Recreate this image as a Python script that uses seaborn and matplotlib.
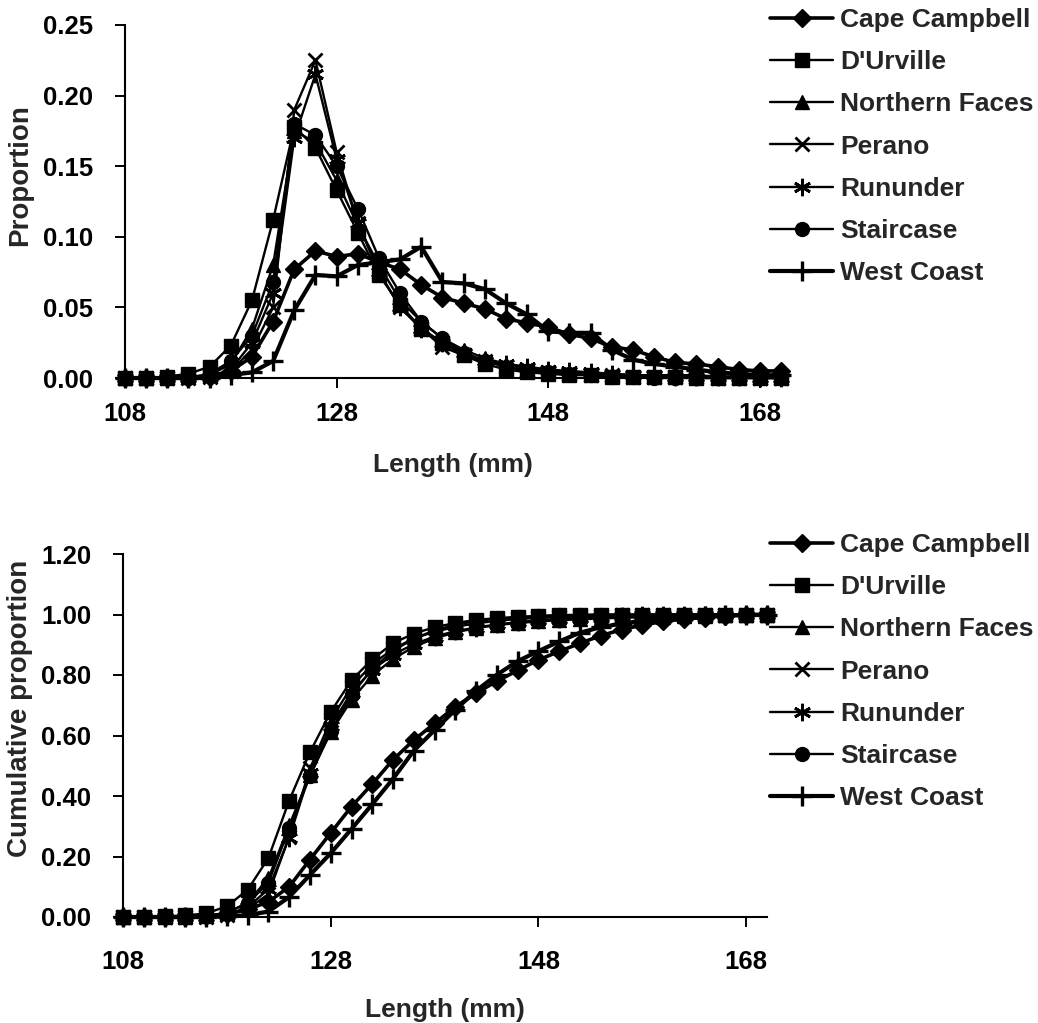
import matplotlib
matplotlib.use("Agg")
import matplotlib.pyplot as plt
import seaborn as sns
from matplotlib.ticker import FormatStrFormatter

# ---------------- data ----------------
lengths = [108, 110, 112, 114, 116, 118, 120, 122, 124, 126, 128, 130, 132, 134, 136, 138,
           140, 142, 144, 146, 148, 150, 152, 154, 156, 158, 160, 162, 164, 166, 168, 170]

series_names = ["Cape Campbell", "D'Urville", "Northern Faces", "Perano",
                "Rununder", "Staircase", "West Coast"]

# proportion at length (top chart)
cape_campbell = [0, 0, 0, 0, 0.001, 0.005, 0.015, 0.040, 0.077, 0.090, 0.086, 0.088, 0.082, 0.077, 0.066, 0.057,
                 0.053, 0.049, 0.042, 0.039, 0.036, 0.031, 0.028, 0.022, 0.020, 0.015, 0.011, 0.010, 0.008, 0.006, 0.005, 0.005]
durville = [0, 0, 0.001, 0.003, 0.008, 0.023, 0.055, 0.112, 0.178, 0.163, 0.133, 0.103, 0.073, 0.052, 0.035, 0.025,
            0.016, 0.010, 0.006, 0.004, 0.003, 0.002, 0.002, 0.001, 0.001, 0.001, 0.001, 0, 0, 0, 0, 0]
northern_faces = [0, 0, 0, 0.001, 0.002, 0.010, 0.035, 0.080, 0.175, 0.167, 0.140, 0.108, 0.080, 0.055, 0.040, 0.028,
                  0.020, 0.014, 0.010, 0.007, 0.005, 0.004, 0.003, 0.003, 0.002, 0.002, 0.002, 0.002, 0.001, 0.001, 0.001, 0.001]
perano = [0, 0, 0, 0, 0.001, 0.005, 0.020, 0.050, 0.190, 0.225, 0.160, 0.110, 0.075, 0.050, 0.035, 0.022,
          0.016, 0.012, 0.008, 0.006, 0.004, 0.003, 0.002, 0.002, 0.001, 0.001, 0.001, 0.001, 0, 0, 0, 0]
rununder = [0, 0, 0, 0, 0.001, 0.006, 0.025, 0.060, 0.170, 0.215, 0.155, 0.110, 0.075, 0.050, 0.035, 0.025,
            0.018, 0.012, 0.010, 0.008, 0.006, 0.005, 0.004, 0.003, 0.002, 0.002, 0.001, 0.001, 0.001, 0.001, 0, 0]
staircase = [0, 0, 0, 0, 0.003, 0.012, 0.030, 0.068, 0.180, 0.172, 0.150, 0.120, 0.085, 0.060, 0.040, 0.028,
             0.018, 0.012, 0.008, 0.005, 0.004, 0.003, 0.002, 0.001, 0.001, 0, 0, 0, 0, 0, 0, 0]
west_coast = [0, 0, 0, 0, 0, 0.002, 0.004, 0.012, 0.048, 0.073, 0.072, 0.080, 0.082, 0.084, 0.093, 0.068,
              0.067, 0.063, 0.053, 0.045, 0.033, 0.032, 0.032, 0.020, 0.013, 0.010, 0.008, 0.006, 0.004, 0.003, 0.002, 0.002]

# cumulative proportion (bottom chart)
cape_campbell_cum = [0, 0, 0, 0, 0.002, 0.010, 0.025, 0.050, 0.100, 0.190, 0.278, 0.365, 0.440, 0.520, 0.585, 0.640,
                     0.695, 0.740, 0.780, 0.815, 0.850, 0.878, 0.905, 0.930, 0.950, 0.965, 0.977, 0.985, 0.990, 0.995, 0.998, 1.000]
durville_cum = [0, 0, 0.002, 0.005, 0.012, 0.035, 0.090, 0.195, 0.385, 0.545, 0.678, 0.783, 0.852, 0.905, 0.937, 0.958,
                0.972, 0.982, 0.988, 0.992, 0.995, 0.997, 0.998, 0.999, 0.999, 1.0, 1.0, 1.0, 1.0, 1.0, 1.0, 1.0]
northern_faces_cum = [0, 0, 0, 0.001, 0.003, 0.013, 0.048, 0.128, 0.303, 0.470, 0.610, 0.718, 0.798, 0.853, 0.893, 0.921,
                      0.941, 0.955, 0.965, 0.972, 0.977, 0.981, 0.984, 0.987, 0.989, 0.991, 0.993, 0.995, 0.996, 0.997, 0.998, 1.0]
perano_cum = [0, 0, 0, 0, 0.001, 0.006, 0.026, 0.076, 0.266, 0.491, 0.651, 0.761, 0.836, 0.886, 0.921, 0.943,
              0.959, 0.971, 0.979, 0.985, 0.989, 0.992, 0.994, 0.996, 0.997, 0.998, 0.999, 1.0, 1.0, 1.0, 1.0, 1.0]
rununder_cum = [0, 0, 0, 0, 0.001, 0.007, 0.032, 0.092, 0.262, 0.477, 0.632, 0.742, 0.817, 0.867, 0.902, 0.927,
                0.945, 0.957, 0.967, 0.975, 0.981, 0.986, 0.990, 0.993, 0.995, 0.997, 0.998, 0.999, 1.0, 1.0, 1.0, 1.0]
staircase_cum = [0, 0, 0, 0, 0.003, 0.015, 0.045, 0.113, 0.293, 0.465, 0.615, 0.735, 0.820, 0.880, 0.920, 0.948,
                 0.966, 0.978, 0.986, 0.991, 0.995, 0.998, 0.999, 1.0, 1.0, 1.0, 1.0, 1.0, 1.0, 1.0, 1.0, 1.0]
west_coast_cum = [0, 0, 0, 0, 0, 0.002, 0.006, 0.018, 0.066, 0.139, 0.211, 0.291, 0.373, 0.457, 0.550, 0.618,
                  0.685, 0.748, 0.801, 0.846, 0.879, 0.911, 0.940, 0.958, 0.970, 0.979, 0.986, 0.991, 0.995, 0.997, 0.999, 1.0]

prop_series = [cape_campbell, durville, northern_faces, perano, rununder, staircase, west_coast]
cum_series = [cape_campbell_cum, durville_cum, northern_faces_cum, perano_cum,
              rununder_cum, staircase_cum, west_coast_cum]

x_ticks = [108, 128, 148, 168]
prop_ticks = [0.00, 0.05, 0.10, 0.15, 0.20, 0.25]
cum_ticks = [0.00, 0.20, 0.40, 0.60, 0.80, 1.00, 1.20]

# ---------------- style ----------------
sns.set_style("ticks")
plt.rcParams['font.family'] = ['Liberation Sans', 'DejaVu Sans']
plt.rcParams['font.weight'] = 'bold'
plt.rcParams['axes.labelweight'] = 'bold'

marker_styles = [
    dict(marker='D', markersize=9.0, linewidth=2.6, markeredgewidth=1.0),
    dict(marker='s', markersize=9.5, linewidth=1.7, markeredgewidth=1.0),
    dict(marker='^', markersize=10.5, linewidth=1.7, markeredgewidth=1.0),
    dict(marker='x', markersize=10.5, linewidth=1.7, markeredgewidth=2.0),
    dict(marker=(6, 2, 0), markersize=12.5, linewidth=1.7, markeredgewidth=2.0),
    dict(marker='o', markersize=10.0, linewidth=1.7, markeredgewidth=1.0),
    dict(marker='+', markersize=14.0, linewidth=3.0, markeredgewidth=2.4),
]

W, H = 1038, 1023
fig = plt.figure(figsize=(W / 100, H / 100), dpi=100)
fig.patch.set_facecolor('white')

ax1 = fig.add_axes([125 / W, 1 - 378 / H, (781 - 125) / W, (378 - 25) / H])
ax2 = fig.add_axes([123 / W, 1 - 917 / H, (767 - 123) / W, (917 - 554) / H])


def draw(ax, data_list, ylim, yticks, ylabel, xpad, xlabelpad, legend_top):
    for name, vals, st in zip(series_names, data_list, marker_styles):
        sns.lineplot(x=lengths, y=vals, ax=ax, color='black', label=name,
                     markeredgecolor='black', markerfacecolor='black',
                     clip_on=False, legend=False, **st)
    ax.set_xlim(108, 170)
    ax.set_ylim(*ylim)
    ax.set_xticks(x_ticks)
    ax.set_yticks(yticks)
    ax.yaxis.set_major_formatter(FormatStrFormatter('%.2f'))
    sns.despine(ax=ax)
    for sp in ('left', 'bottom'):
        ax.spines[sp].set_linewidth(1.5)
        ax.spines[sp].set_color('black')
    ax.tick_params(axis='both', direction='out', length=7, width=1.4,
                   labelsize=18.5, colors='black')
    ax.tick_params(axis='y', pad=16)
    ax.tick_params(axis='x', pad=xpad)
    for lab in ax.get_xticklabels() + ax.get_yticklabels():
        lab.set_fontweight('bold')
    ax.set_xlabel('Length (mm)', fontsize=19, fontweight='bold', labelpad=xlabelpad)
    ax.set_ylabel(ylabel, fontsize=20, fontweight='bold')
    ax.yaxis.set_label_coords(-0.14, 0.575)
    handles, labels = ax.get_legend_handles_labels()
    fig.legend(handles, labels, loc='upper left', bbox_to_anchor=(770 / W, legend_top),
               frameon=False, handlelength=2.4, handletextpad=0.25,
               labelspacing=0.69, borderpad=0, borderaxespad=0, numpoints=1,
               prop={'weight': 'bold', 'size': 19})


draw(ax1, prop_series, (0, 0.25), prop_ticks, 'Proportion', 10, 20, 1 - 8 / H)
draw(ax2, cum_series, (0, 1.2), cum_ticks, 'Cumulative proportion', 17, 17, 1 - 533 / H)

fig.savefig('out.png', dpi=100, facecolor='white')
